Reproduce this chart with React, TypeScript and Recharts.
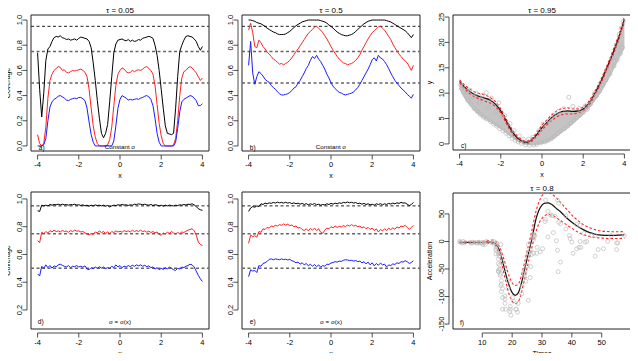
import React from "react";
import {
  ComposedChart,
  Line,
  Area,
  Scatter,
  XAxis,
  YAxis,
  ReferenceLine,
  ReferenceArea,
  ReferenceDot,
} from "recharts";

const FONT = "'Liberation Sans', Arial, Helvetica, sans-serif";

// x grid shared by the coverage panels (a, b, d, e)
const xs = [
  -4, -3.9, -3.8, -3.7, -3.6, -3.5, -3.4, -3.3, -3.2, -3.1, -3, -2.9, -2.8, -2.7, -2.6, -2.5, -2.4,
  -2.3, -2.2, -2.1, -2, -1.9, -1.8, -1.7, -1.6, -1.5, -1.4, -1.3, -1.2, -1.1, -1, -0.9, -0.8, -0.7,
  -0.6, -0.5, -0.4, -0.3, -0.2, -0.1, 0, 0.1, 0.2, 0.3, 0.4, 0.5, 0.6, 0.7, 0.8, 0.9, 1, 1.1, 1.2,
  1.3, 1.4, 1.5, 1.6, 1.7, 1.8, 1.9, 2, 2.1, 2.2, 2.3, 2.4, 2.5, 2.6, 2.7, 2.8, 2.9, 3, 3.1, 3.2,
  3.3, 3.4, 3.5, 3.6, 3.7, 3.8, 3.9, 4,
];

const covLevels = [0.95, 0.75, 0.5];

// a) tau = 0.05, constant sigma
const aBlack = [
  0.74, 0.45, 0.23, 0.42, 0.68, 0.77, 0.79, 0.83, 0.86, 0.87, 0.865, 0.875, 0.86, 0.855, 0.845, 0.85, 0.84,
  0.845, 0.85, 0.84, 0.855, 0.865, 0.86, 0.855, 0.85, 0.83, 0.78, 0.66, 0.52, 0.36, 0.22, 0.1, 0.065, 0.1,
  0.17, 0.35, 0.55, 0.74, 0.81, 0.84, 0.845, 0.85, 0.84, 0.835, 0.845, 0.83, 0.84, 0.83, 0.835, 0.845, 0.84,
  0.855, 0.86, 0.865, 0.87, 0.865, 0.855, 0.8, 0.72, 0.6, 0.45, 0.3, 0.16, 0.1, 0.095, 0.09, 0.1, 0.3, 0.55,
  0.75, 0.8, 0.84, 0.87, 0.875, 0.87, 0.865, 0.85, 0.83, 0.79, 0.76, 0.79,
];
const aRed = [
  0.09, 0.02, 0, 0.02, 0.15, 0.38, 0.52, 0.57, 0.6, 0.615, 0.63, 0.625, 0.6, 0.605, 0.585, 0.58, 0.59, 0.6,
  0.595, 0.6, 0.605, 0.61, 0.6, 0.585, 0.55, 0.45, 0.3, 0.16, 0.07, 0.02, 0, 0, 0, 0, 0.01, 0.05, 0.15, 0.32,
  0.48, 0.57, 0.6, 0.62, 0.61, 0.59, 0.58, 0.585, 0.6, 0.59, 0.6, 0.605, 0.6, 0.61, 0.625, 0.63, 0.615, 0.6,
  0.57, 0.48, 0.33, 0.18, 0.08, 0.02, 0, 0, 0, 0, 0.01, 0.06, 0.2, 0.4, 0.54, 0.59, 0.6, 0.62, 0.63, 0.62,
  0.6, 0.58, 0.55, 0.52, 0.54,
];
const aBlue = [
  0, 0, 0, 0.01, 0.06, 0.2, 0.31, 0.35, 0.37, 0.38, 0.395, 0.4, 0.39, 0.38, 0.365, 0.36, 0.37, 0.375, 0.38,
  0.375, 0.385, 0.385, 0.375, 0.36, 0.3, 0.19, 0.09, 0.03, 0, 0, 0, 0, 0, 0, 0, 0, 0, 0.04, 0.16, 0.3, 0.37,
  0.4, 0.39, 0.38, 0.365, 0.37, 0.365, 0.37, 0.375, 0.37, 0.38, 0.385, 0.395, 0.4, 0.39, 0.37, 0.32, 0.22,
  0.1, 0.03, 0, 0, 0, 0, 0, 0, 0, 0.03, 0.14, 0.27, 0.35, 0.37, 0.38, 0.39, 0.4, 0.395, 0.38, 0.36, 0.32,
  0.32, 0.335,
];

// b) tau = 0.5, constant sigma
const bBlack = [
  1, 1, 0.995, 0.99, 0.98, 0.975, 0.97, 0.96, 0.95, 0.935, 0.925, 0.915, 0.905, 0.9, 0.89, 0.885, 0.885,
  0.885, 0.89, 0.9, 0.91, 0.925, 0.94, 0.955, 0.965, 0.975, 0.985, 0.99, 0.995, 1, 1, 1, 1, 1, 1, 0.995,
  0.99, 0.985, 0.975, 0.96, 0.95, 0.935, 0.92, 0.905, 0.895, 0.885, 0.88, 0.875, 0.875, 0.88, 0.885, 0.895,
  0.91, 0.925, 0.94, 0.955, 0.97, 0.98, 0.99, 0.995, 1, 1, 1, 1, 1, 1, 1, 0.995, 0.99, 0.985, 0.975, 0.965,
  0.955, 0.945, 0.935, 0.925, 0.915, 0.9, 0.88, 0.86, 0.885,
];
const bRed = [
  0.92, 0.975, 0.9, 0.79, 0.78, 0.84, 0.82, 0.79, 0.77, 0.745, 0.73, 0.71, 0.69, 0.68, 0.665, 0.65, 0.655,
  0.645, 0.655, 0.665, 0.68, 0.7, 0.725, 0.75, 0.77, 0.795, 0.82, 0.845, 0.87, 0.895, 0.91, 0.925, 0.945,
  0.95, 0.935, 0.92, 0.9, 0.875, 0.85, 0.82, 0.79, 0.76, 0.735, 0.71, 0.69, 0.675, 0.66, 0.655, 0.645, 0.65,
  0.655, 0.665, 0.68, 0.7, 0.725, 0.76, 0.79, 0.82, 0.85, 0.875, 0.9, 0.915, 0.93, 0.945, 0.95, 0.935, 0.92,
  0.895, 0.87, 0.845, 0.81, 0.78, 0.755, 0.73, 0.71, 0.69, 0.675, 0.66, 0.63, 0.6, 0.64,
];
const bBlue = [
  0.64, 0.83, 0.58, 0.49, 0.55, 0.59, 0.575, 0.555, 0.53, 0.515, 0.505, 0.48, 0.465, 0.45, 0.43, 0.415,
  0.405, 0.405, 0.41, 0.415, 0.425, 0.44, 0.46, 0.47, 0.5, 0.52, 0.55, 0.58, 0.615, 0.64, 0.68, 0.71, 0.695,
  0.72, 0.69, 0.67, 0.64, 0.61, 0.57, 0.54, 0.5, 0.475, 0.455, 0.44, 0.425, 0.42, 0.41, 0.405, 0.41, 0.415,
  0.42, 0.43, 0.445, 0.465, 0.49, 0.52, 0.55, 0.58, 0.61, 0.645, 0.685, 0.7, 0.675, 0.72, 0.7, 0.69, 0.67,
  0.645, 0.615, 0.58, 0.55, 0.52, 0.5, 0.48, 0.46, 0.445, 0.43, 0.41, 0.395, 0.38, 0.41,
];

// d) tau = 0.05, sigma = sigma(x)
const dBlack = [
  0.915, 0.91, 0.955, 0.95, 0.955, 0.95, 0.96, 0.955, 0.96, 0.958, 0.962, 0.957, 0.962, 0.958, 0.96, 0.955,
  0.96, 0.958, 0.962, 0.956, 0.958, 0.953, 0.958, 0.95, 0.955, 0.948, 0.955, 0.95, 0.957, 0.952, 0.955, 0.95,
  0.955, 0.948, 0.953, 0.942, 0.95, 0.955, 0.952, 0.958, 0.955, 0.96, 0.956, 0.958, 0.953, 0.958, 0.955,
  0.962, 0.96, 0.964, 0.962, 0.958, 0.962, 0.957, 0.955, 0.96, 0.953, 0.958, 0.955, 0.95, 0.955, 0.948,
  0.955, 0.95, 0.956, 0.952, 0.95, 0.955, 0.952, 0.958, 0.955, 0.96, 0.956, 0.962, 0.96, 0.965, 0.958,
  0.945, 0.93, 0.922, 0.918,
];
const dRed = [
  0.7, 0.685, 0.76, 0.75, 0.765, 0.755, 0.772, 0.762, 0.775, 0.765, 0.77, 0.762, 0.773, 0.766, 0.768, 0.76,
  0.772, 0.765, 0.775, 0.768, 0.77, 0.762, 0.765, 0.755, 0.748, 0.742, 0.75, 0.745, 0.762, 0.755, 0.77,
  0.758, 0.765, 0.752, 0.762, 0.75, 0.765, 0.758, 0.77, 0.762, 0.768, 0.76, 0.772, 0.765, 0.77, 0.762, 0.775,
  0.765, 0.772, 0.766, 0.775, 0.765, 0.77, 0.76, 0.768, 0.758, 0.765, 0.755, 0.762, 0.745, 0.738, 0.755,
  0.748, 0.76, 0.752, 0.765, 0.755, 0.748, 0.758, 0.75, 0.762, 0.758, 0.768, 0.775, 0.78, 0.785, 0.77, 0.74,
  0.69, 0.672, 0.665,
];
const dBlue = [
  0.46, 0.445, 0.515, 0.5, 0.525, 0.505, 0.52, 0.502, 0.518, 0.51, 0.525, 0.53, 0.522, 0.515, 0.51, 0.52,
  0.505, 0.515, 0.512, 0.52, 0.51, 0.515, 0.508, 0.518, 0.495, 0.49, 0.505, 0.498, 0.51, 0.5, 0.512, 0.502,
  0.51, 0.498, 0.505, 0.5, 0.515, 0.505, 0.525, 0.51, 0.52, 0.505, 0.515, 0.51, 0.52, 0.512, 0.522, 0.515,
  0.525, 0.518, 0.525, 0.515, 0.522, 0.512, 0.518, 0.505, 0.51, 0.495, 0.505, 0.49, 0.5, 0.492, 0.505, 0.495,
  0.51, 0.5, 0.49, 0.485, 0.5, 0.495, 0.51, 0.505, 0.515, 0.52, 0.53, 0.525, 0.51, 0.48, 0.45, 0.425, 0.405,
];

// e) tau = 0.5, sigma = sigma(x)
const eBlack = [
  0.91, 0.935, 0.945, 0.94, 0.95, 0.945, 0.965, 0.96, 0.97, 0.965, 0.972, 0.968, 0.975, 0.97, 0.977, 0.972,
  0.975, 0.97, 0.976, 0.97, 0.974, 0.966, 0.972, 0.965, 0.97, 0.962, 0.968, 0.96, 0.966, 0.958, 0.965, 0.96,
  0.967, 0.958, 0.962, 0.955, 0.96, 0.957, 0.965, 0.96, 0.968, 0.962, 0.97, 0.965, 0.972, 0.968, 0.975,
  0.972, 0.978, 0.972, 0.976, 0.97, 0.974, 0.966, 0.97, 0.962, 0.968, 0.96, 0.965, 0.958, 0.962, 0.955,
  0.965, 0.96, 0.966, 0.958, 0.965, 0.96, 0.968, 0.963, 0.97, 0.965, 0.972, 0.968, 0.975, 0.97, 0.972, 0.962,
  0.952, 0.96, 0.975,
];
const eRed = [
  0.68, 0.74, 0.728, 0.735, 0.725, 0.765, 0.76, 0.785, 0.78, 0.795, 0.79, 0.805, 0.8, 0.81, 0.805, 0.815,
  0.81, 0.82, 0.812, 0.818, 0.808, 0.812, 0.8, 0.805, 0.79, 0.795, 0.78, 0.772, 0.785, 0.77, 0.788, 0.775,
  0.79, 0.772, 0.785, 0.76, 0.752, 0.775, 0.79, 0.785, 0.8, 0.792, 0.805, 0.795, 0.802, 0.798, 0.808, 0.8,
  0.812, 0.805, 0.815, 0.805, 0.81, 0.8, 0.805, 0.79, 0.8, 0.785, 0.795, 0.78, 0.79, 0.772, 0.785, 0.762,
  0.78, 0.77, 0.785, 0.772, 0.79, 0.778, 0.792, 0.782, 0.798, 0.79, 0.805, 0.8, 0.81, 0.795, 0.78, 0.795, 0.81,
];
const eBlue = [
  0.44, 0.49, 0.48, 0.485, 0.47, 0.52, 0.515, 0.535, 0.54, 0.55, 0.565, 0.568, 0.562, 0.568, 0.565, 0.562,
  0.568, 0.563, 0.566, 0.56, 0.565, 0.555, 0.55, 0.54, 0.545, 0.53, 0.54, 0.525, 0.535, 0.518, 0.53, 0.515,
  0.528, 0.512, 0.525, 0.508, 0.52, 0.515, 0.53, 0.528, 0.538, 0.542, 0.548, 0.545, 0.552, 0.55, 0.558, 0.562,
  0.56, 0.556, 0.558, 0.552, 0.556, 0.548, 0.552, 0.54, 0.548, 0.532, 0.545, 0.525, 0.54, 0.518, 0.535, 0.522,
  0.538, 0.525, 0.53, 0.51, 0.525, 0.52, 0.532, 0.528, 0.54, 0.535, 0.548, 0.545, 0.555, 0.548, 0.535, 0.542,
  0.555,
];

// c) tau = 0.95 fit on the simulated data
const cX = [
  -4, -3.75, -3.5, -3.25, -3, -2.75, -2.5, -2.25, -2, -1.75, -1.5, -1.25, -1, -0.75, -0.5, -0.25, 0, 0.25,
  0.5, 0.75, 1, 1.25, 1.5, 1.75, 2, 2.25, 2.5, 2.75, 3, 3.25, 3.5, 3.75, 4,
];
const cFit = [
  12.3, 11.2, 10.3, 9.7, 9.3, 9.0, 8.6, 7.8, 6.5, 4.6, 2.8, 1.4, 0.6, 0.3, 0.8, 1.9, 3.2, 4.3, 5.3, 6.0, 6.4,
  6.5, 6.4, 6.5, 6.9, 7.9, 9.5, 11.4, 13.6, 16.0, 18.5, 21.3, 24.6,
];
const cUpper = [
  12.6, 11.6, 10.8, 10.2, 9.9, 9.6, 9.1, 8.3, 6.9, 5.0, 3.2, 1.8, 0.9, 0.6, 1.1, 2.3, 3.7, 4.8, 5.8, 6.6, 7.0,
  7.1, 6.9, 6.9, 7.3, 8.3, 9.9, 11.8, 14.0, 16.4, 19.0, 21.8, 25.2,
];
const cLower = [
  12.0, 10.8, 9.9, 9.2, 8.8, 8.4, 8.0, 7.3, 6.1, 4.2, 2.4, 1.0, 0.3, 0.0, 0.5, 1.5, 2.7, 3.8, 4.7, 5.4, 5.8,
  5.9, 5.9, 6.1, 6.5, 7.5, 9.1, 11.0, 13.2, 15.6, 18.0, 20.8, 24.0,
];
const cCloudLo = [
  11.0, 9.0, 7.6, 6.5, 5.6, 4.9, 4.3, 3.6, 3.0, 2.2, 1.4, 0.7, 0.2, -0.1, -0.2, -0.1, 0.1, 0.4, 0.9, 1.6, 2.4,
  3.2, 4.0, 4.9, 5.9, 6.9, 8.2, 9.6, 11.2, 13.0, 15.0, 17.0, 19.0,
];
const cCloudHi = [
  12.3, 11.3, 10.4, 9.8, 9.4, 9.1, 8.6, 7.8, 6.5, 4.8, 3.0, 1.6, 0.8, 0.5, 0.9, 1.8, 3.0, 4.0, 5.0, 5.8, 6.2,
  6.4, 6.4, 6.5, 6.9, 7.8, 9.3, 11.2, 13.4, 15.8, 18.3, 21.0, 24.0,
];
const cPoints = [
  [-3.95, 11.6], [-3.9, 10.9], [-3.85, 11.4], [-3.8, 10.2], [-3.7, 9.6], [-3.65, 10.4], [-3.6, 8.6],
  [-3.5, 10.6], [-3.45, 7.9], [-3.4, 9.3], [-3.3, 7.0], [-3.2, 10.0], [-3.15, 6.4], [-3.05, 8.2], [-3.0, 5.8],
  [-2.9, 9.6], [-2.85, 5.3], [-2.7, 10.1], [-2.7, 4.9], [-2.6, 7.2], [-2.5, 4.4], [-2.45, 9.0], [-2.35, 3.9],
  [-2.25, 6.3], [-2.2, 3.5], [-2.1, 8.1], [-2.05, 3.0], [-1.95, 5.4], [-1.9, 2.6], [-1.8, 5.6], [-1.75, 2.1],
  [-1.6, 1.6], [-1.55, 4.0], [-1.45, 1.1], [-1.35, 2.6], [-1.3, 0.7], [-1.15, 0.4], [-1.1, 1.6], [-1.0, 0.1],
  [-0.9, 0.9], [-0.8, -0.2], [-0.65, 0.9], [-0.6, -0.3], [-0.45, 1.3], [-0.4, -0.2], [-0.25, -0.1],
  [-0.15, 2.6], [-0.05, 0.2], [0.05, 3.9], [0.15, 0.4], [0.3, 0.7], [0.35, 4.6], [0.45, 1.0], [0.55, 5.7],
  [0.6, 1.5], [0.75, 2.0], [0.8, 6.4], [0.9, 2.5], [1.05, 6.9], [1.1, 3.0], [1.25, 3.5], [1.3, 9.2], [1.4, 4.1],
  [1.5, 7.4], [1.55, 4.7], [1.7, 5.2], [1.8, 7.0], [1.85, 5.7], [2.0, 6.2], [2.1, 7.5], [2.2, 6.8], [2.35, 7.8],
  [2.45, 8.6], [2.55, 10.0], [2.65, 9.5], [2.8, 10.4], [2.85, 12.0], [2.95, 11.6], [3.1, 12.6], [3.15, 14.6],
  [3.3, 13.8], [3.4, 17.0], [3.5, 15.4], [3.6, 19.5], [3.65, 16.6], [3.75, 21.6], [3.8, 17.8], [3.85, 22.8],
  [3.9, 19.0], [3.95, 24.2],
];

// f) tau = 0.8 on the motorcycle data
const fX = [
  2.4, 4, 6, 8, 10, 12, 13, 14, 15, 16, 17, 18, 19, 20, 21, 22, 23, 24, 25, 26, 27, 28, 29, 30, 31, 32, 33, 34,
  35, 36, 38, 40, 42, 44, 46, 48, 50, 52, 54, 56, 57.6,
];
const fFit = [
  -1.5, -1.5, -1.6, -1.6, -1.6, -1.2, -1.0, -2.5, -8, -20, -40, -62, -80, -93, -98, -94, -78, -55, -32, -10,
  15, 41, 57, 66, 69.5, 70, 68, 64, 59, 55, 44, 35, 27, 21, 16, 13, 11.5, 11, 11, 11.5, 12,
];
const fUpper = [
  0.5, 0.5, 0.3, 0.3, 0.5, 1.5, 2.5, 2, -3, -12, -28, -46, -63, -75, -80, -78, -64, -42, -18, 5, 30, 55, 72,
  83, 88, 89, 87, 83, 78, 72, 60, 48, 38, 30, 25, 21, 19, 18, 17.5, 17.5, 18,
];
const fLower = [
  -3, -3, -3, -3, -3, -3, -3, -5, -14, -30, -52, -76, -96, -108, -113, -110, -95, -72, -48, -25, -2, 18, 33,
  42, 47, 49, 48, 46, 42, 39, 31, 24, 17, 12, 9, 7, 6, 5.5, 5.5, 5.5, 6,
];
const fPoints = [
  [2.4, 0], [2.6, -1.3], [3.2, -2.7], [3.6, 0], [4, -2.7], [6.2, -2.7], [6.6, -2.7], [6.8, -1.3], [7.8, -2.7],
  [8.2, -2.7], [8.8, -1.3], [8.8, -2.7], [9.6, -2.7], [10, -2.7], [10.2, -5.4], [10.6, -2.7], [11, -5.4],
  [11.4, 0], [13.2, -2.7], [13.6, -2.7], [13.8, 0], [14.6, -13.3], [14.6, -5.4], [14.6, -9.3], [14.6, -16],
  [14.6, -22.8], [14.8, -2.7], [15.4, -22.8], [15.4, -32.1], [15.4, -53.5], [15.4, -54.9], [15.4, -40.2],
  [15.6, -21.5], [15.6, -50.8], [15.8, -42.9], [15.8, -26.8], [16, -21.5], [16, -50.8], [16, -61.7],
  [16.2, -5.4], [16.2, -80.4], [16.2, -59], [16.4, -71], [16.4, -91.1], [16.4, -77.7], [16.6, -37.5],
  [16.8, -85.6], [16.8, -123.1], [16.8, -101.9], [17.6, -99.1], [17.6, -104.4], [17.6, -112.5], [17.6, -50.8],
  [17.8, -123.1], [18.6, -85.6], [18.6, -72.3], [19.2, -127.2], [19.4, -123.1], [19.4, -117.9], [19.6, -134],
  [20.2, -101.9], [20.4, -108.4], [21.2, -123.1], [21.4, -123.1], [21.8, -128.5], [22, -112.5], [23.2, -95.1],
  [23.4, -81.8], [24, -53.5], [24.2, -64.4], [24.2, -57.6], [24.6, -72.3], [25, -44.3], [25, -26.8],
  [25.4, -5.4], [25.4, -107.1], [25.6, -21.5], [26, -65.6], [26.2, -16], [26.2, -45.6], [26.4, -24.2],
  [27, 9.5], [27.2, 4], [27.2, 12], [27.2, -21.5], [27.6, 10.7], [28.2, -21.5], [28.4, -10.7], [29.4, -18.8],
  [30.2, -13.3], [31, 36.2], [31.2, 40.2], [31.2, 75], [32, 8.1], [32, 54.9], [32.8, 48.2], [33.4, 46.9],
  [33.8, 16], [34.4, 45.6], [34.8, 1.3], [35.2, 75], [35.2, -16], [35.4, -54.9], [35.6, 69.6], [35.6, 34.8],
  [36.2, 32.1], [36.2, -37.5], [38, 22.8], [38, 46.9], [39.2, 10.7], [39.4, 5.4], [40, -1.3], [40.4, -21.5],
  [41.6, -13.3], [41.6, 30.8], [42.4, -10.7], [42.8, 29.4], [42.8, 0], [43, -10.7], [44, 14.7], [44.4, -1.3],
  [45, 0], [46.6, 10.7], [47.8, 10.7], [47.8, -26.8], [48.8, -14.7], [50.6, -13.3], [52, 0], [53.2, 10.7],
  [55, -14.7], [55, -2.7], [55.4, -2.7], [57.6, 10.7],
];

const covData = (k: number[], r: number[], b: number[]) =>
  xs.map((x, i) => ({ x, black: k[i], red: r[i], blue: b[i] }));

const cData = cX.map((x, i) => ({
  x,
  fit: cFit[i],
  up: cUpper[i],
  lo: cLower[i],
  cloud: [cCloudLo[i], cCloudHi[i]],
}));
const cScatter = cPoints.map(([x, y]) => ({ x, y }));
const fData = fX.map((x, i) => ({ x, fit: fFit[i], up: fUpper[i], lo: fLower[i] }));
const fScatter = fPoints.map(([x, y]) => ({ x, y }));

type Panel = {
  left: number;
  top: number;
  w: number;
  h: number;
  xDomain: [number, number];
  yDomain: [number, number];
  xTicks: number[];
  yTicks: number[];
  yDigits: number;
  xLabel: string;
  yLabel?: string;
  title?: string;
  tag: string;
  tagAt: [number, number];
  note?: string;
  noteAt?: [number, number];
};

const ML = 31;
const MT = 15;
const MB = 30;
const MR = 4;
const INK = "#222";

const xTick = (p: any) => (
  <g>
    <line x1={p.x} x2={p.x} y1={p.y + 4} y2={p.y + 8.5} stroke={INK} strokeWidth={0.8} />
    <text x={p.x} y={p.y + 15.5} textAnchor="middle" fontSize={7.5} fill="#000" fontFamily={FONT}>
      {String(p.payload.value)}
    </text>
  </g>
);

const yTick = (digits: number) => (p: any) => (
  <g>
    <line x1={p.x - 4} x2={p.x - 8.5} y1={p.y} y2={p.y} stroke={INK} strokeWidth={0.8} />
    <text
      transform={`translate(${p.x - 9},${p.y}) rotate(-90)`}
      textAnchor="middle"
      fontSize={7.5}
      fill="#000"
      fontFamily={FONT}
    >
      {Number(p.payload.value).toFixed(digits)}
    </text>
  </g>
);

function frame(c: Panel) {
  const [x0, x1] = c.xDomain;
  const [y0, y1] = c.yDomain;
  const xt = c.xTicks;
  const yt = c.yTicks;
  const els = [
    <ReferenceArea
      key="frame"
      x1={x0}
      x2={x1}
      y1={y0}
      y2={y1}
      fill="none"
      fillOpacity={0}
      stroke={INK}
      strokeWidth={1}
      ifOverflow="visible"
      label={
        c.title
          ? { value: c.title, position: "top", offset: 2, fontSize: 8, fill: "#000", fontFamily: FONT }
          : undefined
      }
    />,
    <ReferenceLine
      key="xline"
      segment={[{ x: xt[0], y: y0 }, { x: xt[xt.length - 1], y: y0 }]}
      ifOverflow="visible"
      shape={(p: any) => (
        <line x1={p.x1} x2={p.x2} y1={p.y1 + 4} y2={p.y2 + 4} stroke={INK} strokeWidth={0.8} />
      )}
    />,
    <ReferenceLine
      key="yline"
      segment={[{ x: x0, y: yt[0] }, { x: x0, y: yt[yt.length - 1] }]}
      ifOverflow="visible"
      shape={(p: any) => (
        <line x1={p.x1 - 4} x2={p.x2 - 4} y1={p.y1} y2={p.y2} stroke={INK} strokeWidth={0.8} />
      )}
    />,
    <ReferenceDot
      key="tag"
      x={c.tagAt[0]}
      y={c.tagAt[1]}
      r={0}
      ifOverflow="visible"
      label={{ value: c.tag, position: "center", fontSize: 6.5, fill: "#000", fontFamily: FONT }}
    />,
  ];
  if (c.note && c.noteAt) {
    els.push(
      <ReferenceDot
        key="note"
        x={c.noteAt[0]}
        y={c.noteAt[1]}
        r={0}
        ifOverflow="visible"
        label={{ value: c.note, position: "center", fontSize: 6.2, fill: "#000", fontFamily: FONT }}
      />
    );
  }
  return els;
}

function axes(c: Panel) {
  return [
    <XAxis
      key="x"
      type="number"
      dataKey="x"
      domain={c.xDomain}
      allowDataOverflow
      ticks={c.xTicks}
      interval={0}
      axisLine={false}
      tickLine={false}
      tickSize={0}
      tickMargin={0}
      height={MB}
      tick={xTick}
      label={{
        content: (p: any) => {
          const vb = p.viewBox || { x: ML, y: MT + c.h, width: c.w, height: MB };
          return (
            <text
              x={vb.x + vb.width / 2}
              y={vb.y + 27}
              textAnchor="middle"
              fontSize={7}
              fill="#000"
              fontFamily={FONT}
            >
              {c.xLabel}
            </text>
          );
        },
      }}
    />,
    <YAxis
      key="y"
      type="number"
      domain={c.yDomain}
      allowDataOverflow
      ticks={c.yTicks}
      interval={0}
      axisLine={false}
      tickLine={false}
      tickSize={0}
      tickMargin={0}
      width={ML}
      tick={yTick(c.yDigits)}
      label={
        c.yLabel
          ? {
              content: (p: any) => {
                const vb = p.viewBox || { x: 0, y: MT, height: c.h };
                return (
                  <text
                    transform={`translate(${vb.x + 9.5},${vb.y + vb.height / 2}) rotate(-90)`}
                    textAnchor="middle"
                    fontSize={7}
                    fill="#000"
                    fontFamily={FONT}
                  >
                    {c.yLabel}
                  </text>
                );
              },
            }
          : undefined
      }
    />,
  ];
}

function Box({ c, data, children }: { c: Panel; data: any[]; children: React.ReactNode }) {
  return (
    <div style={{ position: "absolute", left: c.left - ML, top: c.top - MT }}>
      <ComposedChart
        width={ML + c.w + MR}
        height={MT + c.h + MB}
        data={data}
        margin={{ top: MT, right: MR, bottom: 0, left: 0 }}
      >
        {axes(c)}
        {children}
        {frame(c)}
      </ComposedChart>
    </div>
  );
}

function coverageSeries() {
  return [
    ...covLevels.map((v, i) => (
      <ReferenceLine
        key={`lvl${v}`}
        y={v}
        stroke={i === 0 ? "#222" : "#666"}
        strokeWidth={i === 0 ? 1 : 1.5}
        strokeDasharray="3 2.5"
      />
    )),
    <Line key="k" dataKey="black" stroke="#000" strokeWidth={1} dot={false} isAnimationActive={false} />,
    <Line key="r" dataKey="red" stroke="#ff2020" strokeWidth={1} dot={false} isAnimationActive={false} />,
    <Line key="b" dataKey="blue" stroke="#1a1aff" strokeWidth={1} dot={false} isAnimationActive={false} />,
  ];
}

const X4: [number, number] = [-4.32, 4.32];
const xt4 = [-4, -2, 0, 2, 4];
const covTicksTop = [0, 0.2, 0.4, 0.6, 0.8, 1];
const covTicksBottom = [0.2, 0.4, 0.6, 0.8, 1];

const pa: Panel = {
  left: 31, top: 15, w: 178, h: 136, xDomain: X4, yDomain: [-0.04, 1.04], xTicks: xt4,
  yTicks: covTicksTop, yDigits: 1, xLabel: "x", yLabel: "Coverage", title: "τ = 0.05",
  tag: "a)", tagAt: [-3.8, -0.01], note: "Constant σ", noteAt: [0, -0.01],
};
const pb: Panel = {
  left: 242, top: 15, w: 178, h: 136, xDomain: X4, yDomain: [-0.04, 1.04], xTicks: xt4,
  yTicks: covTicksTop, yDigits: 1, xLabel: "x", title: "τ = 0.5",
  tag: "b)", tagAt: [-3.8, -0.01], note: "Constant σ", noteAt: [0, -0.01],
};
const pc: Panel = {
  left: 453, top: 15, w: 178, h: 135, xDomain: X4, yDomain: [-1.2, 25.4], xTicks: xt4,
  yTicks: [0, 5, 10, 15, 20, 25], yDigits: 0, xLabel: "x", yLabel: "y", title: "τ = 0.95",
  tag: "c)", tagAt: [-3.8, -0.4],
};
const pd: Panel = {
  left: 31, top: 192, w: 178, h: 137, xDomain: X4, yDomain: [0.063, 1.05], xTicks: xt4,
  yTicks: covTicksBottom, yDigits: 1, xLabel: "x", yLabel: "Coverage",
  tag: "d)", tagAt: [-3.85, 0.115], note: "σ = σ(x)", noteAt: [0, 0.115],
};
const pe: Panel = {
  left: 242, top: 192, w: 178, h: 137, xDomain: X4, yDomain: [0.063, 1.05], xTicks: xt4,
  yTicks: covTicksBottom, yDigits: 1, xLabel: "x",
  tag: "e)", tagAt: [-3.8, 0.115], note: "σ = σ(x)", noteAt: [0, 0.115],
};
const pf: Panel = {
  left: 453, top: 193, w: 178, h: 136, xDomain: [0.19, 59.81], yDomain: [-159, 88],
  xTicks: [10, 20, 30, 40, 50], yTicks: [-150, -100, -50, 0, 50], yDigits: 0,
  xLabel: "Times", yLabel: "Acceleration", title: "τ = 0.8", tag: "f)", tagAt: [3.2, -147],
};

const ring = (stroke: string) => (p: any) =>
  <circle cx={p.cx} cy={p.cy} r={2} fill="none" stroke={stroke} strokeWidth={0.7} />;

export default function App() {
  return (
    <div
      style={{
        position: "relative",
        width: 638,
        height: 361,
        margin: -8,
        background: "#fff",
        fontFamily: FONT,
        overflow: "hidden",
      }}
    >
      <Box c={pa} data={covData(aBlack, aRed, aBlue)}>{coverageSeries()}</Box>
      <Box c={pb} data={covData(bBlack, bRed, bBlue)}>{coverageSeries()}</Box>
      <Box c={pd} data={covData(dBlack, dRed, dBlue)}>{coverageSeries()}</Box>
      <Box c={pe} data={covData(eBlack, eRed, eBlue)}>{coverageSeries()}</Box>
      <Box c={pc} data={cData}>
        <Area dataKey="cloud" type="monotone" fill="#c4c4c4" fillOpacity={1} stroke="#bdbdbd" strokeWidth={1} isAnimationActive={false} />
        <Scatter data={cScatter} dataKey="y" shape={ring("#b8b8b8")} isAnimationActive={false} />
        <Line dataKey="fit" type="monotone" stroke="#111" strokeWidth={1.2} dot={false} isAnimationActive={false} />
        <Line dataKey="up" type="monotone" stroke="#ff2020" strokeWidth={1.1} strokeDasharray="2.5 2" dot={false} isAnimationActive={false} />
        <Line dataKey="lo" type="monotone" stroke="#ff2020" strokeWidth={1.1} strokeDasharray="2.5 2" dot={false} isAnimationActive={false} />
      </Box>
      <Box c={pf} data={fData}>
        <Scatter data={fScatter} dataKey="y" shape={ring("#bdbdbd")} isAnimationActive={false} />
        <Line dataKey="fit" type="monotone" stroke="#111" strokeWidth={1.2} dot={false} isAnimationActive={false} />
        <Line dataKey="up" type="monotone" stroke="#ff2020" strokeWidth={1.1} strokeDasharray="2.5 2" dot={false} isAnimationActive={false} />
        <Line dataKey="lo" type="monotone" stroke="#ff2020" strokeWidth={1.1} strokeDasharray="2.5 2" dot={false} isAnimationActive={false} />
      </Box>
    </div>
  );
}
